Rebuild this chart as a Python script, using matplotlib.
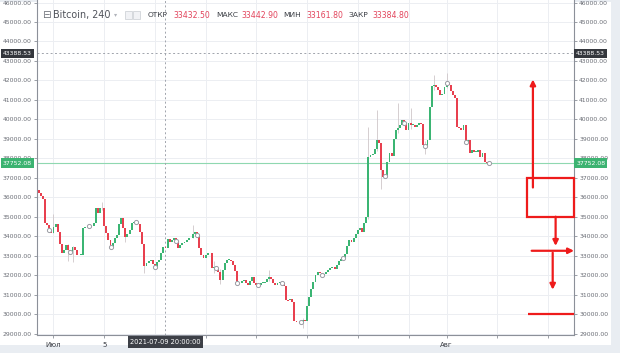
import numpy as np
import pandas as pd
import matplotlib
matplotlib.use("Agg")
import matplotlib.pyplot as plt
import matplotlib.dates as mdates
from matplotlib.patches import Rectangle
from matplotlib.transforms import blended_transform_factory

plt.rcParams['font.family'] = ['DejaVu Sans']

# ---------------- data ----------------
symbol = "Bitcoin, 240"
start_time = "2021-06-29 20:00"
first_open = 36350
closes = [
    36200,
    36050, 35900, 34700, 34550, 34300, 34150,   # 30 Jun
    34450, 34650, 34200, 33600, 33150, 33300,   # 1 Jul
    33550, 33300, 33200, 33450, 33300, 33050,
    33030, 33050, 34400, 34490, 34450, 34500,
    34500, 34660, 35430, 35170, 35430, 35430,
    34500, 34150, 33800, 33460, 33650, 33900,   # 5 Jul
    34060, 34600, 34920, 34400, 33975, 34100,
    34300, 34660, 34745, 34745, 34600, 34200,
    33600, 32450, 32600, 32700, 32780, 32550,
    32430, 32650, 32800, 33120, 33430, 33385,   # 9 Jul
    33850, 33700, 33800, 33890, 33750, 33380,
    33550, 33630, 33700, 33800, 33890, 33900,
    34100, 34230, 34050, 33400, 33030, 32860,
    33050, 33150, 33120, 32380, 32430, 32350,   # 13 Jul
    32180, 31750, 32260, 32600, 32780, 32800,
    32750, 32520, 32200, 31580, 31620, 31700,
    31750, 31600, 31490, 31700, 31900, 31600,
    31500, 31490, 31600, 31620, 31660, 31800,   # 17 Jul
    31920, 31780, 31580, 31490, 31580, 31650,
    31580, 31450, 30720, 30700, 30750, 30640,
    29650, 29620, 29650, 29610, 29700, 29620,
    30400, 30900, 31300, 31650, 32010, 32180,   # 21 Jul
    32100, 32010, 32050, 32180, 32260, 32350,
    32400, 32300, 32500, 32700, 32850, 32900,
    33100, 33500, 33800, 33700, 33900, 34100,
    34300, 34400, 34200, 34700, 35000, 38080,   # 25 Jul
    38170, 38200, 38500, 38940, 38770, 37400,
    37060, 37100, 37800, 38255, 38100, 39000,
    39450, 39540, 39700, 39970, 39800, 39450,
    39800, 39710, 39710, 39620, 39710, 39800,   # 29 Jul
    39750, 38680, 38650, 38940, 40650, 41700,
    41760, 41650, 41500, 41250, 41300, 41680,
    41850, 41760, 41450, 41250, 41080, 39600,   # 1 Aug
    39540, 39450, 39710, 38850, 38940, 38255,
    38430, 38340, 38340, 38430, 38080, 38255,
    37830, 37740, 37752,
]
wick_idx = [7, 14, 16, 30, 41, 50, 73, 83, 86, 109, 125, 156, 160, 162, 170, 176, 183, 187, 193]
wick_high = [35150, 33600, 33500, 35750, 34150, 33000, 34580, 32700, 32300, 32260, 29800,
             39620, 40480, 37900, 40820, 40580, 38900, 42280, 42400]
wick_low = [34150, 32700, 32650, 35350, 33700, 32100, 33900, 32100, 31550, 31700, 29300,
            34900, 38400, 36400, 39300, 39500, 38200, 41500, 41600]
marker_idx = [5, 15, 24, 34, 46, 55, 65, 75, 84, 94, 104, 115, 124, 134, 144, 164, 173, 183, 193, 202, 213]

ohlc_labels = ["ОТКР", "МАКС", "МИН", "ЗАКР"]
ohlc_values = [33432.50, 33442.90, 33161.80, 33384.80]
crosshair_time = "2021-07-09 20:00"
crosshair_price = 43388.53
last_price = 37752.08
ytick_values = list(range(29000, 46001, 1000))
xtick_dates = ["2021-07-01", "2021-07-05", "2021-07-09", "2021-07-13", "2021-07-17",
               "2021-07-21", "2021-07-25", "2021-07-29", "2021-08-01", "2021-08-05", "2021-08-09"]
xtick_labels = ["Июл", "5", "", "", "", "", "", "", "Авг", "", ""]

# annotation levels (prices) drawn in red
rect_low, rect_high = 35000, 37000
up_arrow = (36500, 42050)
down_arrow1 = (35000, 33500)
hline_arrow = 33250
down_arrow2 = (33150, 31250)
support_line = 30000

# ---------------- figure ----------------
W, H = 620, 353
fig = plt.figure(figsize=(W / 100, H / 100), dpi=100)
fig.patch.set_facecolor('#e9edf2')
fig.add_artist(Rectangle((0, 8 / H), 611 / W, 1 - 8 / H - 2 / H, transform=fig.transFigure,
                         facecolor='white', edgecolor='none', zorder=0))

ax = fig.add_axes([37 / W, 18 / H, (574 - 37) / W, 335 / H])
ax.set_facecolor('white')

times = pd.date_range(start_time, periods=len(closes), freq="4h")
x = mdates.date2num(times)
c = np.array(closes, dtype=float)
o = np.concatenate([[first_open], c[:-1]])
up = c >= o
col_up, col_dn = '#3bb573', '#e8404f'
colors = np.where(up, col_up, col_dn)

base = mdates.date2num(pd.Timestamp("2021-07-01"))
ax.set_xlim(base - 1.30, base + 41.05)
ax.set_ylim(28924, 46130)

# grid
ax.set_yticks(ytick_values)
ax.set_yticklabels([f"{v:.2f}" for v in ytick_values])
xt = mdates.date2num(pd.to_datetime(xtick_dates))
ax.set_xticks(xt)
ax.set_xticklabels(xtick_labels)
ax.grid(True, color='#eceef2', lw=0.7, zorder=0)
ax.set_axisbelow(True)

# wicks
wx = x[wick_idx]
ax.vlines(wx, wick_low, wick_high, color='#cfc6c9', lw=0.6, zorder=2)

# bodies
h = c - o
hv = np.where(np.abs(h) < 40, np.where(up, 40, -40), h)
ax.bar(x, hv, bottom=o, width=0.15, color=colors, linewidth=0, zorder=3)

# hollow markers
ax.plot(x[marker_idx], c[marker_idx], 'o', mfc='white', mec='#9a9ca3', ms=3.0, mew=0.7, zorder=4)

# price lines
ax.axhline(last_price, color='#8fd8b0', lw=0.8, zorder=1)
ax.axhline(crosshair_price, color='#a0a4ac', lw=0.7, ls=(0, (2, 2.5)), zorder=1)
ch_x = mdates.date2num(pd.Timestamp(crosshair_time))
ax.axvline(ch_x, color='#a0a4ac', lw=0.7, ls=(0, (2, 2.5)), zorder=1)

# spines / ticks
for s in ['left', 'right', 'bottom']:
    ax.spines[s].set_color('#8c9099')
    ax.spines[s].set_linewidth(0.8)
ax.spines['top'].set_visible(False)
ax.tick_params(axis='y', left=True, right=True, labelleft=True, labelright=True,
               length=2.5, width=0.6, color='#8c9099', labelsize=4.4,
               labelcolor='#6a6d75', pad=1.2)
ax.tick_params(axis='x', length=2.5, width=0.6, color='#8c9099', labelsize=5,
               labelcolor='#3a3d44', pad=2.5)

# price boxes on both axes
bt_right = blended_transform_factory(ax.transAxes, ax.transData)
for val, fc in [(crosshair_price, '#34373d'), (last_price, '#3cb371')]:
    ax.text(1.004, val, f"{val:.2f}", transform=bt_right, ha='left', va='center',
            fontsize=4.4, color='white', clip_on=False, zorder=6,
            bbox=dict(boxstyle='square,pad=0.35', fc=fc, ec='none'))
    ax.text(-0.009, val, f"{val:.2f}", transform=bt_right, ha='right', va='center',
            fontsize=4.4, color='white', clip_on=False, zorder=6,
            bbox=dict(boxstyle='square,pad=0.35', fc=fc, ec='none'))

# crosshair date box
bt_bottom = blended_transform_factory(ax.transData, ax.transAxes)
ax.text(ch_x, -0.021, "2021-07-09 20:00:00", transform=bt_bottom, ha='center', va='center',
        fontsize=4.8, color='white', clip_on=False, zorder=6,
        bbox=dict(boxstyle='square,pad=0.4', fc='#3d4047', ec='none'))

# header
fig.text(42 / W, 1 - 15 / H, "⊟", fontsize=7.5, color='#6d7078', va='center', ha='left')
fig.text(53 / W, 1 - 15 / H, symbol, fontsize=6.9, color='#50535b', va='center', ha='left')
fig.text(114 / W, 1 - 15 / H, "▾", fontsize=4.5, color='#b0b3ba', va='center', ha='left')
for px in (125, 133):
    fig.add_artist(Rectangle((px / W, 1 - 19 / H), 7 / W, 8 / H, transform=fig.transFigure,
                             facecolor='#f1f2f5', edgecolor='#c9ccd2', lw=0.5))
hx = [148, 216, 283, 348]
for lx, lab in zip(hx, ohlc_labels):
    fig.text(lx / W, 1 - 15 / H, lab, fontsize=5.4, color='#3a3d44', va='center', ha='left')
hv_x = [173, 241, 306, 372]
for vx, v in zip(hv_x, ohlc_values):
    fig.text(vx / W, 1 - 15 / H, f"{v:.2f}", fontsize=5.6, color='#e2445c', va='center', ha='left')

# red annotations
red = '#ee1b1b'
d = lambda days: base + days
ax.add_patch(Rectangle((d(37.37), rect_low), d(41.05) - d(37.37), rect_high - rect_low,
                       fill=False, ec=red, lw=1.6, zorder=7, clip_on=False))
ap = dict(arrowstyle='-|>', color=red, lw=1.6, mutation_scale=8, shrinkA=0, shrinkB=0)
ax.annotate("", xy=(d(37.81), up_arrow[1]), xytext=(d(37.81), up_arrow[0]), arrowprops=ap, zorder=7)
ax.annotate("", xy=(d(39.6), down_arrow1[1]), xytext=(d(39.6), down_arrow1[0]), arrowprops=ap, zorder=7)
ax.annotate("", xy=(d(41.05), hline_arrow), xytext=(d(37.71), hline_arrow), arrowprops=ap, zorder=7,
            annotation_clip=False)
ax.annotate("", xy=(d(39.37), down_arrow2[1]), xytext=(d(39.37), down_arrow2[0]), arrowprops=ap, zorder=7)
ax.plot([d(37.42), d(41.05)], [support_line, support_line], color=red, lw=1.6, zorder=7,
        solid_capstyle='butt', clip_on=False)

fig.savefig("out.png", dpi=100, facecolor=fig.get_facecolor())
